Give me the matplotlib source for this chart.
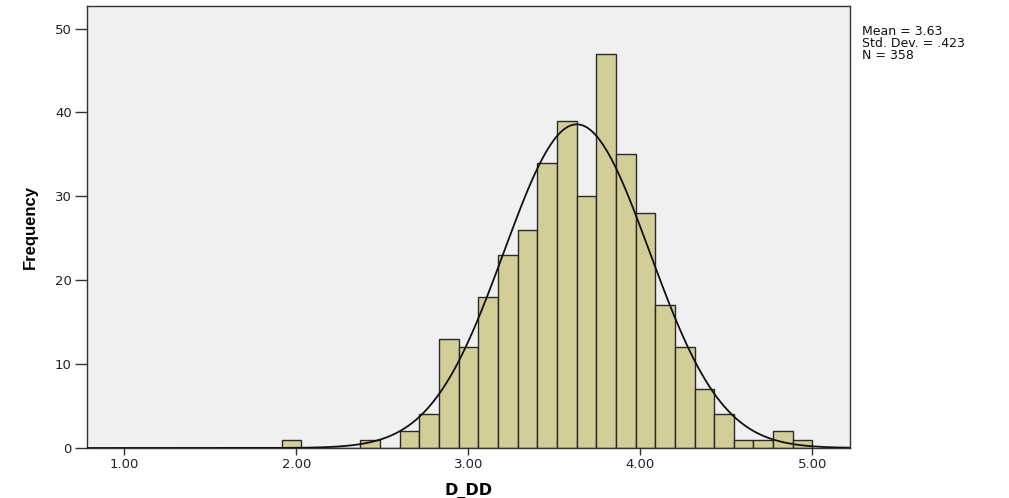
import matplotlib.pyplot as plt
import numpy as np

# histogram of D_DD: 35 bins from 1.00 to 5.00
bin_start = 1.0
bin_end = 5.0
n_bins = 35
counts = [0, 0, 0, 0, 0, 0, 0, 0, 1, 0, 0, 0, 1, 0,
          2, 4, 13, 12, 18, 23, 26, 34, 39, 30, 47, 35, 28,
          17, 12, 7, 4, 1, 1, 2, 1]
mean = 3.63
std = 0.423
n_total = 358
xticks = [1.0, 2.0, 3.0, 4.0, 5.0]
yticks = [0, 10, 20, 30, 40, 50]

plt.rcParams['font.family'] = ['DejaVu Sans']

edges = np.linspace(bin_start, bin_end, n_bins + 1)
width = edges[1] - edges[0]

fig = plt.figure(figsize=(10.09, 4.98), dpi=100)
ax = fig.add_axes([0.0862, 0.1004, 0.7562, 0.8876])
ax.set_facecolor('#f0f0f0')

ax.bar(edges[:-1], counts, width=width, align='edge', color='#d3ce98',
       edgecolor='#2a2a2a', linewidth=1.0, zorder=2)

# fitted normal curve
xs = np.linspace(0.78, 5.22, 400)
ys = n_total * width * np.exp(-0.5 * ((xs - mean) / std) ** 2) / (std * np.sqrt(2 * np.pi))
ax.plot(xs, ys, color='#111111', linewidth=1.3, zorder=3)

ax.set_xlim(0.783, 5.218)
ax.set_ylim(0, 52.7)
ax.set_xticks(xticks)
ax.set_xticklabels(['%.2f' % v for v in xticks])
ax.set_yticks(yticks)
ax.tick_params(direction='out', width=1, color='#333333',
               labelsize=9.5, labelcolor='#222222')
ax.tick_params(axis='x', length=5, pad=2)
ax.tick_params(axis='y', length=9, pad=2)
for s in ax.spines.values():
    s.set_color('#333333')
    s.set_linewidth(1.0)

ax.set_xlabel('D_DD', fontsize=11.5, fontweight='bold', labelpad=9)
ax.set_ylabel('Frequency', fontsize=12, fontweight='bold', labelpad=12,
              family=['Liberation Sans', 'DejaVu Sans'])

fig.text(0.854, 0.95, 'Mean = %.2f\nStd. Dev. = .423\nN = %d' % (mean, n_total),
         fontsize=9, va='top', ha='left', linespacing=0.88, color='#111111')

fig.savefig('out.png', dpi=100)
